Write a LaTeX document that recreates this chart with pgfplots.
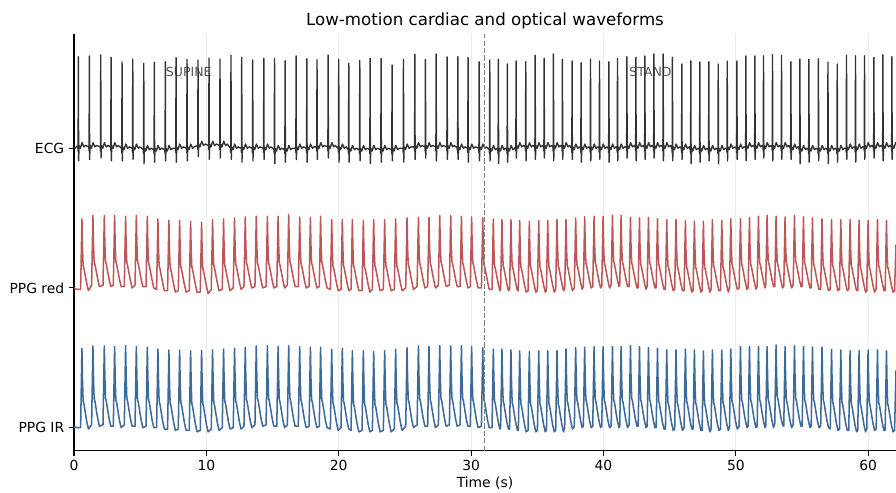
\documentclass[border=0pt]{standalone}
\usepackage{fontspec}
\setmainfont{DejaVu Sans}
\usepackage{pgfplots}
\usepackage{pgfplotstable}
\pgfplotsset{compat=1.18}
\definecolor{ecgc}{HTML}{333333}
\definecolor{redc}{HTML}{BD5757}
\definecolor{bluec}{HTML}{3D6A98}
\definecolor{gridc}{HTML}{EBEBEB}
\definecolor{annc}{HTML}{555555}

% ECG trace (relative to its own baseline; drawn at offset 2)
\pgfplotstableread{
t y
0.00 0.01
0.10 0.00
0.20 0.015
0.29 0.01
0.31 -0.02
0.33 0.656
0.35 -0.09
0.38 0.02
0.48 0.00
0.61 0.04
0.75 0.01
0.88 0.02
1.12 0.01
1.14 -0.02
1.16 0.661
1.18 -0.08
1.21 0.02
1.31 0.00
1.44 0.04
1.58 0.01
1.71 0.02
1.98 0.01
2.00 -0.02
2.02 0.668
2.04 -0.07
2.07 0.02
2.17 0.00
2.30 0.04
2.44 0.01
2.57 0.02
2.76 0.01
2.78 -0.02
2.80 0.651
2.82 -0.09
2.85 0.02
2.95 0.00
3.08 0.04
3.22 0.01
3.35 0.02
3.59 0.00
3.61 -0.03
3.63 0.618
3.65 -0.09
3.68 0.01
3.78 -0.01
3.91 0.03
4.05 0.00
4.18 0.01
4.40 0.00
4.42 -0.03
4.44 0.639
4.46 -0.08
4.49 0.01
4.59 -0.01
4.72 0.03
4.86 0.00
4.99 0.01
5.23 -0.01
5.25 -0.04
5.27 0.608
5.29 -0.11
5.32 0.00
5.42 -0.02
5.55 0.02
5.69 -0.01
5.82 0.00
6.03 -0.01
6.05 -0.04
6.07 0.616
6.09 -0.10
6.12 0.00
6.22 -0.02
6.35 0.02
6.49 -0.01
6.62 0.00
6.86 -0.01
6.88 -0.04
6.90 0.620
6.92 -0.09
6.95 0.00
7.05 -0.02
7.18 0.02
7.32 -0.01
7.45 0.00
7.67 0.00
7.69 -0.03
7.71 0.649
7.73 -0.10
7.76 0.01
7.86 -0.01
7.99 0.03
8.13 0.00
8.26 0.01
8.50 0.00
8.52 -0.03
8.54 0.637
8.56 -0.09
8.59 0.01
8.69 -0.01
8.82 0.03
8.96 0.00
9.09 0.01
9.33 0.02
9.35 -0.01
9.37 0.632
9.39 -0.06
9.42 0.03
9.52 0.01
9.65 0.05
9.79 0.02
9.92 0.03
10.16 0.02
10.18 -0.01
10.20 0.646
10.22 -0.08
10.25 0.03
10.35 0.01
10.48 0.05
10.62 0.02
10.75 0.03
10.99 0.02
11.01 -0.01
11.03 0.639
11.05 -0.07
11.08 0.03
11.18 0.01
11.31 0.05
11.45 0.02
11.58 0.03
11.82 0.00
11.84 -0.03
11.86 0.666
11.88 -0.08
11.91 0.01
12.01 -0.01
12.14 0.03
12.28 0.00
12.41 0.01
12.63 0.00
12.65 -0.03
12.67 0.651
12.69 -0.10
12.72 0.01
12.82 -0.01
12.95 0.03
13.09 0.00
13.22 0.01
13.46 0.00
13.48 -0.03
13.50 0.632
13.52 -0.09
13.55 0.01
13.65 -0.01
13.78 0.03
13.92 0.00
14.05 0.01
14.30 0.00
14.32 -0.03
14.34 0.644
14.36 -0.08
14.39 0.01
14.49 -0.01
14.62 0.03
14.76 0.00
14.89 0.01
15.11 -0.01
15.13 -0.04
15.15 0.644
15.17 -0.11
15.20 0.00
15.30 -0.02
15.43 0.02
15.57 -0.01
15.70 0.00
15.91 -0.01
15.93 -0.04
15.95 0.627
15.97 -0.10
16.00 0.00
16.10 -0.02
16.23 0.02
16.37 -0.01
16.50 0.00
16.74 0.00
16.76 -0.03
16.78 0.661
16.80 -0.08
16.83 0.01
16.93 -0.01
17.06 0.03
17.20 0.00
17.33 0.01
17.55 0.00
17.57 -0.03
17.59 0.641
17.61 -0.10
17.64 0.01
17.74 -0.01
17.87 0.03
18.01 0.00
18.14 0.01
18.32 0.01
18.34 -0.02
18.36 0.634
18.38 -0.08
18.41 0.02
18.51 0.00
18.64 0.04
18.78 0.01
18.91 0.02
19.16 0.01
19.18 -0.02
19.20 0.668
19.22 -0.07
19.25 0.02
19.35 0.00
19.48 0.04
19.62 0.01
19.75 0.02
19.96 0.00
19.98 -0.03
20.00 0.637
20.02 -0.10
20.05 0.01
20.15 -0.01
20.28 0.03
20.42 0.00
20.55 0.01
20.72 -0.01
20.74 -0.04
20.76 0.608
20.78 -0.10
20.81 0.00
20.91 -0.02
21.04 0.02
21.18 -0.01
21.31 0.00
21.55 -0.01
21.57 -0.04
21.59 0.630
21.61 -0.09
21.64 0.00
21.74 -0.02
21.87 0.02
22.01 -0.01
22.14 0.00
22.33 -0.01
22.35 -0.04
22.37 0.644
22.39 -0.11
22.42 0.00
22.52 -0.02
22.65 0.02
22.79 -0.01
22.92 0.00
23.16 -0.01
23.18 -0.04
23.20 0.644
23.22 -0.10
23.25 0.00
23.35 -0.02
23.48 0.02
23.62 -0.01
23.75 0.00
23.99 -0.01
24.01 -0.04
24.03 0.596
24.05 -0.09
24.08 0.00
24.18 -0.02
24.31 0.02
24.45 -0.01
24.58 0.00
24.85 0.00
24.87 -0.03
24.89 0.637
24.91 -0.10
24.94 0.01
25.04 -0.01
25.17 0.03
25.31 0.00
25.44 0.01
25.71 0.01
25.73 -0.02
25.75 0.673
25.77 -0.08
25.80 0.02
25.90 0.00
26.03 0.04
26.17 0.01
26.30 0.02
26.51 0.01
26.53 -0.02
26.55 0.637
26.57 -0.07
26.60 0.02
26.70 0.00
26.83 0.04
26.97 0.01
27.10 0.02
27.32 0.01
27.34 -0.02
27.36 0.675
27.38 -0.09
27.41 0.02
27.51 0.00
27.64 0.04
27.78 0.01
27.91 0.02
28.15 0.01
28.17 -0.02
28.19 0.654
28.21 -0.08
28.24 0.02
28.34 0.00
28.47 0.04
28.61 0.01
28.74 0.02
28.96 0.00
28.98 -0.03
29.00 0.656
29.02 -0.08
29.05 0.01
29.15 -0.01
29.28 0.03
29.42 0.00
29.55 0.01
29.73 0.00
29.75 -0.03
29.77 0.649
29.79 -0.10
29.82 0.01
29.92 -0.01
30.05 0.03
30.19 0.00
30.32 0.01
30.57 0.00
30.59 -0.03
30.61 0.620
30.63 -0.09
30.66 0.01
30.76 -0.01
30.89 0.03
31.03 0.00
31.16 0.01
31.37 -0.01
31.39 -0.04
31.41 0.632
31.43 -0.09
31.46 0.00
31.56 -0.02
31.69 0.02
31.83 -0.01
31.96 0.00
32.02 -0.01
32.04 -0.04
32.06 0.637
32.08 -0.11
32.11 0.00
32.21 -0.02
32.34 0.02
32.48 -0.01
32.61 0.00
32.70 -0.01
32.72 -0.04
32.74 0.603
32.76 -0.10
32.79 0.00
32.89 -0.02
33.02 0.02
33.16 -0.01
33.29 0.00
33.36 0.01
33.38 -0.02
33.40 0.625
33.42 -0.07
33.45 0.02
33.55 0.00
33.68 0.04
33.82 0.01
33.95 0.02
34.09 0.01
34.11 -0.02
34.13 0.620
34.15 -0.09
34.18 0.02
34.28 0.00
34.41 0.04
34.55 0.01
34.68 0.02
34.80 0.01
34.82 -0.02
34.84 0.666
34.86 -0.08
34.89 0.02
34.99 0.00
35.12 0.04
35.26 0.01
35.39 0.02
35.48 0.01
35.50 -0.02
35.52 0.644
35.54 -0.07
35.57 0.02
35.67 0.00
35.80 0.04
35.94 0.01
36.07 0.02
36.18 0.01
36.20 -0.02
36.22 0.675
36.24 -0.09
36.27 0.02
36.37 0.00
36.50 0.04
36.64 0.01
36.77 0.02
36.86 0.01
36.88 -0.02
36.90 0.637
36.92 -0.08
36.95 0.02
37.05 0.00
37.18 0.04
37.32 0.01
37.45 0.02
37.59 0.00
37.61 -0.03
37.63 0.625
37.65 -0.08
37.68 0.01
37.78 -0.01
37.91 0.03
38.05 0.00
38.18 0.01
38.27 0.00
38.29 -0.03
38.31 0.613
38.33 -0.10
38.36 0.01
38.46 -0.01
38.59 0.03
38.73 0.00
38.86 0.01
38.98 0.00
39.00 -0.03
39.02 0.639
39.04 -0.09
39.07 0.01
39.17 -0.01
39.30 0.03
39.44 0.00
39.57 0.01
39.66 0.00
39.68 -0.03
39.70 0.625
39.72 -0.08
39.75 0.01
39.85 -0.01
39.98 0.03
40.12 0.00
40.25 0.01
40.37 0.00
40.39 -0.03
40.41 0.620
40.43 -0.10
40.46 0.01
40.56 -0.01
40.69 0.03
40.83 0.00
40.96 0.01
41.02 0.00
41.04 -0.03
41.06 0.644
41.08 -0.09
41.11 0.01
41.21 -0.01
41.34 0.03
41.48 0.00
41.61 0.01
41.73 0.01
41.75 -0.02
41.77 0.656
41.79 -0.07
41.82 0.02
41.92 0.00
42.05 0.04
42.19 0.01
42.32 0.02
42.41 0.01
42.43 -0.02
42.45 0.651
42.47 -0.09
42.50 0.02
42.60 0.00
42.73 0.04
42.87 0.01
43.00 0.02
43.09 0.01
43.11 -0.02
43.13 0.661
43.15 -0.08
43.18 0.02
43.28 0.00
43.41 0.04
43.55 0.01
43.68 0.02
43.77 0.01
43.79 -0.02
43.81 0.675
43.83 -0.07
43.86 0.02
43.96 0.00
44.09 0.04
44.23 0.01
44.36 0.02
44.47 0.01
44.49 -0.02
44.51 0.675
44.53 -0.09
44.56 0.02
44.66 0.00
44.79 0.04
44.93 0.01
45.06 0.02
45.17 0.00
45.19 -0.03
45.21 0.651
45.23 -0.09
45.26 0.01
45.36 -0.01
45.49 0.03
45.63 0.00
45.76 0.01
45.88 0.00
45.90 -0.03
45.92 0.603
45.94 -0.08
45.97 0.01
46.07 -0.01
46.20 0.03
46.34 0.00
46.47 0.01
46.56 -0.01
46.58 -0.04
46.60 0.626
46.62 -0.11
46.65 0.00
46.75 -0.02
46.88 0.02
47.02 -0.01
47.15 0.00
47.24 -0.01
47.26 -0.04
47.28 0.618
47.30 -0.10
47.33 0.00
47.43 -0.02
47.56 0.02
47.70 -0.01
47.83 0.00
47.92 -0.01
47.94 -0.04
47.96 0.620
47.98 -0.09
48.01 0.00
48.11 -0.02
48.24 0.02
48.38 -0.01
48.51 0.00
48.63 -0.01
48.65 -0.04
48.67 0.603
48.69 -0.11
48.72 0.00
48.82 -0.02
48.95 0.02
49.09 -0.01
49.22 0.00
49.31 0.00
49.33 -0.03
49.35 0.625
49.37 -0.09
49.40 0.01
49.50 -0.01
49.63 0.03
49.77 0.00
49.90 0.01
50.04 0.00
50.06 -0.03
50.08 0.625
50.10 -0.08
50.13 0.01
50.23 -0.01
50.36 0.03
50.50 0.00
50.63 0.01
50.72 0.01
50.74 -0.02
50.76 0.661
50.78 -0.09
50.81 0.02
50.91 0.00
51.04 0.04
51.18 0.01
51.31 0.02
51.40 0.01
51.42 -0.02
51.44 0.661
51.46 -0.08
51.49 0.02
51.59 0.00
51.72 0.04
51.86 0.01
51.99 0.02
52.05 0.01
52.07 -0.02
52.09 0.661
52.11 -0.07
52.14 0.02
52.24 0.00
52.37 0.04
52.51 0.01
52.64 0.02
52.73 0.01
52.75 -0.02
52.77 0.670
52.79 -0.09
52.82 0.02
52.92 0.00
53.05 0.04
53.19 0.01
53.32 0.02
53.41 0.01
53.43 -0.02
53.45 0.666
53.47 -0.08
53.50 0.02
53.60 0.00
53.73 0.04
53.87 0.01
54.00 0.02
54.12 0.00
54.14 -0.03
54.16 0.620
54.18 -0.08
54.21 0.01
54.31 -0.01
54.44 0.03
54.58 0.00
54.71 0.01
54.80 -0.01
54.82 -0.04
54.84 0.639
54.86 -0.11
54.89 0.00
54.99 -0.02
55.12 0.02
55.26 -0.01
55.39 0.00
55.48 -0.01
55.50 -0.04
55.52 0.637
55.54 -0.10
55.57 0.00
55.67 -0.02
55.80 0.02
55.94 -0.01
56.07 0.00
56.20 -0.01
56.22 -0.04
56.24 0.641
56.26 -0.09
56.29 0.00
56.39 -0.02
56.52 0.02
56.66 -0.01
56.79 0.00
56.92 -0.01
56.94 -0.04
56.96 0.616
56.98 -0.11
57.01 0.00
57.11 -0.02
57.24 0.02
57.38 -0.01
57.51 0.00
57.62 -0.01
57.64 -0.04
57.66 0.603
57.68 -0.10
57.71 0.00
57.81 -0.02
57.94 0.02
58.08 -0.01
58.21 0.00
58.32 0.00
58.34 -0.03
58.36 0.666
58.38 -0.08
58.41 0.01
58.51 -0.01
58.64 0.03
58.78 0.00
58.91 0.01
59.00 0.00
59.02 -0.03
59.04 0.661
59.06 -0.10
59.09 0.01
59.19 -0.01
59.32 0.03
59.46 0.00
59.59 0.01
59.68 0.01
59.70 -0.02
59.72 0.661
59.74 -0.08
59.77 0.02
59.87 0.00
60.00 0.04
60.14 0.01
60.27 0.02
60.39 0.01
60.41 -0.02
60.43 0.651
60.45 -0.07
60.48 0.02
60.58 0.00
60.71 0.04
60.85 0.01
60.98 0.02
61.07 0.01
61.09 -0.02
61.11 0.670
61.13 -0.09
61.16 0.02
61.26 0.00
61.39 0.04
61.53 0.01
61.66 0.02
61.75 0.01
61.77 -0.02
61.79 0.656
61.81 -0.08
61.84 0.02
61.94 0.00
62.07 0.04
62.10 0.03
}\ecgtab

% PPG traces: r = PPG red (offset 1), i = PPG IR (offset 0)
\pgfplotstableread{
t r i
0.00 0.00 0.005
0.25 -0.01 0.00
0.50 -0.01 0.00
0.60 0.494 0.568
0.64 0.29 0.35
0.69 0.16 0.19
0.75 0.14 0.17
0.85 0.09 0.11
0.97 0.03 0.04
1.09 -0.02 -0.01
1.33 0.02 0.02
1.43 0.518 0.585
1.47 0.32 0.37
1.52 0.19 0.21
1.58 0.17 0.19
1.68 0.12 0.13
1.80 0.06 0.06
1.92 0.01 0.01
2.19 0.02 0.02
2.29 0.518 0.585
2.33 0.32 0.37
2.38 0.19 0.21
2.44 0.17 0.19
2.54 0.12 0.13
2.66 0.06 0.06
2.78 0.01 0.01
2.97 0.02 0.01
3.07 0.518 0.580
3.11 0.32 0.36
3.16 0.19 0.20
3.22 0.17 0.18
3.32 0.12 0.12
3.44 0.06 0.05
3.56 0.01 0.00
3.80 0.01 0.02
3.90 0.513 0.587
3.94 0.31 0.37
3.99 0.18 0.21
4.05 0.16 0.19
4.15 0.11 0.13
4.27 0.05 0.06
4.39 0.00 0.01
4.61 0.02 0.01
4.71 0.518 0.580
4.75 0.32 0.36
4.80 0.19 0.20
4.86 0.17 0.18
4.96 0.12 0.12
5.08 0.06 0.05
5.20 0.01 0.00
5.44 0.01 0.01
5.54 0.513 0.576
5.58 0.31 0.36
5.63 0.18 0.20
5.69 0.16 0.18
5.79 0.11 0.12
5.91 0.05 0.05
6.03 0.00 0.00
6.24 -0.01 0.00
6.34 0.494 0.563
6.38 0.29 0.35
6.43 0.16 0.19
6.49 0.14 0.17
6.59 0.09 0.11
6.71 0.03 0.04
6.83 -0.02 -0.01
7.07 -0.02 -0.01
7.17 0.484 0.556
7.21 0.28 0.34
7.26 0.15 0.18
7.32 0.13 0.16
7.42 0.08 0.10
7.54 0.02 0.03
7.66 -0.03 -0.02
7.88 -0.02 -0.01
7.98 0.484 0.556
8.02 0.28 0.34
8.07 0.15 0.18
8.13 0.13 0.16
8.23 0.08 0.10
8.35 0.02 0.03
8.47 -0.03 -0.02
8.71 -0.02 -0.02
8.81 0.477 0.551
8.85 0.28 0.33
8.90 0.15 0.17
8.96 0.13 0.15
9.06 0.08 0.09
9.18 0.02 0.02
9.30 -0.03 -0.03
9.54 -0.03 -0.02
9.64 0.470 0.551
9.68 0.27 0.33
9.73 0.14 0.17
9.79 0.12 0.15
9.89 0.07 0.09
10.01 0.01 0.02
10.13 -0.04 -0.03
10.37 -0.01 -0.01
10.47 0.489 0.556
10.51 0.29 0.34
10.56 0.16 0.18
10.62 0.14 0.16
10.72 0.09 0.10
10.84 0.03 0.03
10.96 -0.02 -0.02
11.20 -0.01 0.00
11.30 0.494 0.563
11.34 0.29 0.35
11.39 0.16 0.19
11.45 0.14 0.17
11.55 0.09 0.11
11.67 0.03 0.04
11.79 -0.02 -0.01
12.03 0.00 0.00
12.13 0.501 0.568
12.17 0.30 0.35
12.22 0.17 0.19
12.28 0.15 0.17
12.38 0.10 0.11
12.50 0.04 0.04
12.62 -0.01 -0.01
12.84 0.01 0.01
12.94 0.508 0.576
12.98 0.31 0.36
13.03 0.18 0.20
13.09 0.16 0.18
13.19 0.11 0.12
13.31 0.05 0.05
13.43 0.00 0.00
13.67 0.01 0.02
13.77 0.513 0.585
13.81 0.31 0.37
13.86 0.18 0.21
13.92 0.16 0.19
14.02 0.11 0.13
14.14 0.05 0.06
14.26 0.00 0.01
14.51 0.01 0.02
14.61 0.513 0.587
14.65 0.31 0.37
14.70 0.18 0.21
14.76 0.16 0.19
14.86 0.11 0.13
14.98 0.05 0.06
15.10 0.00 0.01
15.32 0.01 0.01
15.42 0.513 0.580
15.46 0.31 0.36
15.51 0.18 0.20
15.57 0.16 0.18
15.67 0.11 0.12
15.79 0.05 0.05
15.91 0.00 0.00
16.12 0.02 0.02
16.22 0.525 0.587
16.26 0.32 0.37
16.31 0.19 0.21
16.37 0.17 0.19
16.47 0.12 0.13
16.59 0.06 0.06
16.71 0.01 0.01
16.95 0.01 0.01
17.05 0.508 0.580
17.09 0.31 0.36
17.14 0.18 0.20
17.20 0.16 0.18
17.30 0.11 0.12
17.42 0.05 0.05
17.54 0.00 0.00
17.76 0.01 0.01
17.86 0.505 0.576
17.90 0.31 0.36
17.95 0.18 0.20
18.01 0.16 0.18
18.11 0.11 0.12
18.23 0.05 0.05
18.35 0.00 0.00
18.53 0.01 0.01
18.63 0.513 0.576
18.67 0.31 0.36
18.72 0.18 0.20
18.78 0.16 0.18
18.88 0.11 0.12
19.00 0.05 0.05
19.12 0.00 0.00
19.37 -0.01 -0.01
19.47 0.489 0.561
19.51 0.29 0.34
19.56 0.16 0.18
19.62 0.14 0.16
19.72 0.09 0.10
19.84 0.03 0.03
19.96 -0.02 -0.02
20.17 -0.01 0.00
20.27 0.489 0.568
20.31 0.29 0.35
20.36 0.16 0.19
20.42 0.14 0.17
20.52 0.09 0.11
20.64 0.03 0.04
20.76 -0.02 -0.01
20.93 -0.01 -0.02
21.03 0.489 0.551
21.07 0.29 0.33
21.12 0.16 0.17
21.18 0.14 0.15
21.28 0.09 0.09
21.40 0.03 0.02
21.52 -0.02 -0.03
21.76 -0.02 -0.02
21.86 0.482 0.551
21.90 0.28 0.33
21.95 0.15 0.17
22.01 0.13 0.15
22.11 0.08 0.09
22.23 0.02 0.02
22.35 -0.03 -0.03
22.54 -0.01 -0.02
22.64 0.489 0.544
22.68 0.29 0.33
22.73 0.16 0.17
22.79 0.14 0.15
22.89 0.09 0.09
23.01 0.03 0.02
23.13 -0.02 -0.03
23.37 -0.01 -0.02
23.47 0.489 0.551
23.51 0.29 0.33
23.56 0.16 0.17
23.62 0.14 0.15
23.72 0.09 0.09
23.84 0.03 0.02
23.96 -0.02 -0.03
24.20 -0.01 -0.01
24.30 0.494 0.561
24.34 0.29 0.34
24.39 0.16 0.18
24.45 0.14 0.16
24.55 0.09 0.10
24.67 0.03 0.03
24.79 -0.02 -0.02
25.06 0.00 0.01
25.16 0.501 0.573
25.20 0.30 0.36
25.25 0.17 0.20
25.31 0.15 0.18
25.41 0.10 0.12
25.53 0.04 0.05
25.65 -0.01 0.00
25.92 0.01 0.02
26.02 0.505 0.585
26.06 0.31 0.37
26.11 0.18 0.21
26.17 0.16 0.19
26.27 0.11 0.13
26.39 0.05 0.06
26.51 0.00 0.01
26.72 0.01 0.01
26.82 0.505 0.580
26.86 0.31 0.36
26.91 0.18 0.20
26.97 0.16 0.18
27.07 0.11 0.12
27.19 0.05 0.05
27.31 0.00 0.00
27.53 0.02 0.02
27.63 0.518 0.587
27.67 0.32 0.37
27.72 0.19 0.21
27.78 0.17 0.19
27.88 0.12 0.13
28.00 0.06 0.06
28.12 0.01 0.01
28.36 0.02 0.02
28.46 0.518 0.585
28.50 0.32 0.37
28.55 0.19 0.21
28.61 0.17 0.19
28.71 0.12 0.13
28.83 0.06 0.06
28.95 0.01 0.01
29.17 0.01 0.02
29.27 0.513 0.587
29.31 0.31 0.37
29.36 0.18 0.21
29.42 0.16 0.19
29.52 0.11 0.13
29.64 0.05 0.06
29.76 0.00 0.01
29.94 0.01 0.01
30.04 0.508 0.580
30.08 0.31 0.36
30.13 0.18 0.20
30.19 0.16 0.18
30.29 0.11 0.12
30.41 0.05 0.05
30.53 0.00 0.00
30.78 0.00 0.01
30.88 0.501 0.573
30.92 0.30 0.36
30.97 0.17 0.20
31.03 0.15 0.18
31.13 0.10 0.12
31.25 0.04 0.05
31.37 -0.01 0.00
31.58 -0.01 0.00
31.68 0.494 0.563
31.72 0.29 0.35
31.77 0.16 0.19
31.83 0.14 0.17
31.93 0.09 0.11
32.05 0.03 0.04
32.17 -0.02 -0.01
32.23 -0.01 0.00
32.33 0.489 0.563
32.37 0.29 0.35
32.42 0.16 0.19
32.48 0.14 0.17
32.58 0.09 0.11
32.70 0.03 0.04
32.82 -0.02 -0.01
32.91 -0.01 -0.01
33.01 0.489 0.556
33.05 0.29 0.34
33.10 0.16 0.18
33.16 0.14 0.16
33.26 0.09 0.10
33.38 0.03 0.03
33.50 -0.02 -0.02
33.57 -0.02 -0.02
33.67 0.484 0.549
33.71 0.28 0.33
33.76 0.15 0.17
33.82 0.13 0.15
33.92 0.08 0.09
34.04 0.02 0.02
34.16 -0.03 -0.03
34.30 -0.02 -0.02
34.40 0.477 0.544
34.44 0.28 0.33
34.49 0.15 0.17
34.55 0.13 0.15
34.65 0.08 0.09
34.77 0.02 0.02
34.89 -0.03 -0.03
35.01 -0.02 -0.02
35.11 0.482 0.549
35.15 0.28 0.33
35.20 0.15 0.17
35.26 0.13 0.15
35.36 0.08 0.09
35.48 0.02 0.02
35.60 -0.03 -0.03
35.69 -0.02 -0.02
35.79 0.482 0.549
35.83 0.28 0.33
35.88 0.15 0.17
35.94 0.13 0.15
36.04 0.08 0.09
36.16 0.02 0.02
36.28 -0.03 -0.03
36.39 -0.01 -0.02
36.49 0.489 0.551
36.53 0.29 0.33
36.58 0.16 0.17
36.64 0.14 0.15
36.74 0.09 0.09
36.86 0.03 0.02
36.98 -0.02 -0.03
37.07 -0.01 0.00
37.17 0.489 0.563
37.21 0.29 0.35
37.26 0.16 0.19
37.32 0.14 0.17
37.42 0.09 0.11
37.54 0.03 0.04
37.66 -0.02 -0.01
37.80 0.00 0.01
37.90 0.501 0.573
37.94 0.30 0.36
37.99 0.17 0.20
38.05 0.15 0.18
38.15 0.10 0.12
38.27 0.04 0.05
38.39 -0.01 0.00
38.48 0.01 0.01
38.58 0.510 0.576
38.62 0.31 0.36
38.67 0.18 0.20
38.73 0.16 0.18
38.83 0.11 0.12
38.95 0.05 0.05
39.07 0.00 0.00
39.19 0.01 0.01
39.29 0.513 0.580
39.33 0.31 0.36
39.38 0.18 0.20
39.44 0.16 0.18
39.54 0.11 0.12
39.66 0.05 0.05
39.78 0.00 0.00
39.87 0.01 0.01
39.97 0.513 0.580
40.01 0.31 0.36
40.06 0.18 0.20
40.12 0.16 0.18
40.22 0.11 0.12
40.34 0.05 0.05
40.46 0.00 0.00
40.58 0.02 0.01
40.68 0.520 0.580
40.72 0.32 0.36
40.77 0.19 0.20
40.83 0.17 0.18
40.93 0.12 0.12
41.05 0.06 0.05
41.17 0.01 0.00
41.23 0.02 0.01
41.33 0.518 0.580
41.37 0.32 0.36
41.42 0.19 0.20
41.48 0.17 0.18
41.58 0.12 0.12
41.70 0.06 0.05
41.82 0.01 0.00
41.94 0.01 0.02
42.04 0.505 0.587
42.08 0.31 0.37
42.13 0.18 0.21
42.19 0.16 0.19
42.29 0.11 0.13
42.41 0.05 0.06
42.53 0.00 0.01
42.62 0.00 0.01
42.72 0.501 0.580
42.76 0.30 0.36
42.81 0.17 0.20
42.87 0.15 0.18
42.97 0.10 0.12
43.09 0.04 0.05
43.21 -0.01 0.00
43.30 0.01 0.01
43.40 0.505 0.573
43.44 0.31 0.36
43.49 0.18 0.20
43.55 0.16 0.18
43.65 0.11 0.12
43.77 0.05 0.05
43.89 0.00 0.00
43.98 0.00 0.00
44.08 0.496 0.568
44.12 0.30 0.35
44.17 0.17 0.19
44.23 0.15 0.17
44.33 0.10 0.11
44.45 0.04 0.04
44.57 -0.01 -0.01
44.68 -0.01 -0.01
44.78 0.489 0.556
44.82 0.29 0.34
44.87 0.16 0.18
44.93 0.14 0.16
45.03 0.09 0.10
45.15 0.03 0.03
45.27 -0.02 -0.02
45.38 -0.01 -0.01
45.48 0.489 0.556
45.52 0.29 0.34
45.57 0.16 0.18
45.63 0.14 0.16
45.73 0.09 0.10
45.85 0.03 0.03
45.97 -0.02 -0.02
46.09 -0.02 0.00
46.19 0.482 0.563
46.23 0.28 0.35
46.28 0.15 0.19
46.34 0.13 0.17
46.44 0.08 0.11
46.56 0.02 0.04
46.68 -0.03 -0.01
46.77 -0.02 -0.01
46.87 0.477 0.556
46.91 0.28 0.34
46.96 0.15 0.18
47.02 0.13 0.16
47.12 0.08 0.10
47.24 0.02 0.03
47.36 -0.03 -0.02
47.45 -0.02 -0.02
47.55 0.477 0.549
47.59 0.28 0.33
47.64 0.15 0.17
47.70 0.13 0.15
47.80 0.08 0.09
47.92 0.02 0.02
48.04 -0.03 -0.03
48.13 -0.01 -0.01
48.23 0.489 0.556
48.27 0.29 0.34
48.32 0.16 0.18
48.38 0.14 0.16
48.48 0.09 0.10
48.60 0.03 0.03
48.72 -0.02 -0.02
48.84 -0.02 -0.01
48.94 0.482 0.556
48.98 0.28 0.34
49.03 0.15 0.18
49.09 0.13 0.16
49.19 0.08 0.10
49.31 0.02 0.03
49.43 -0.03 -0.02
49.52 0.00 0.00
49.62 0.496 0.563
49.66 0.30 0.35
49.71 0.17 0.19
49.77 0.15 0.17
49.87 0.10 0.11
49.99 0.04 0.04
50.11 -0.01 -0.01
50.25 0.00 0.01
50.35 0.496 0.580
50.39 0.30 0.36
50.44 0.17 0.20
50.50 0.15 0.18
50.60 0.10 0.12
50.72 0.04 0.05
50.84 -0.01 0.00
50.93 0.00 0.01
51.03 0.501 0.580
51.07 0.30 0.36
51.12 0.17 0.20
51.18 0.15 0.18
51.28 0.10 0.12
51.40 0.04 0.05
51.52 -0.01 0.00
51.61 0.01 0.01
51.71 0.513 0.580
51.75 0.31 0.36
51.80 0.18 0.20
51.86 0.16 0.18
51.96 0.11 0.12
52.08 0.05 0.05
52.20 0.00 0.00
52.26 0.02 0.01
52.36 0.520 0.580
52.40 0.32 0.36
52.45 0.19 0.20
52.51 0.17 0.18
52.61 0.12 0.12
52.73 0.06 0.05
52.85 0.01 0.00
52.94 0.01 0.03
53.04 0.513 0.592
53.08 0.31 0.38
53.13 0.18 0.22
53.19 0.16 0.20
53.29 0.11 0.14
53.41 0.05 0.07
53.53 0.00 0.02
53.62 0.01 0.01
53.72 0.508 0.580
53.76 0.31 0.36
53.81 0.18 0.20
53.87 0.16 0.18
53.97 0.11 0.12
54.09 0.05 0.05
54.21 0.00 0.00
54.33 0.02 0.02
54.43 0.518 0.585
54.47 0.32 0.37
54.52 0.19 0.21
54.58 0.17 0.19
54.68 0.12 0.13
54.80 0.06 0.06
54.92 0.01 0.01
55.01 0.01 0.01
55.11 0.508 0.580
55.15 0.31 0.36
55.20 0.18 0.20
55.26 0.16 0.18
55.36 0.11 0.12
55.48 0.05 0.05
55.60 0.00 0.00
55.69 0.00 0.01
55.79 0.501 0.576
55.83 0.30 0.36
55.88 0.17 0.20
55.94 0.15 0.18
56.04 0.10 0.12
56.16 0.04 0.05
56.28 -0.01 0.00
56.41 -0.01 0.01
56.51 0.494 0.576
56.55 0.29 0.36
56.60 0.16 0.20
56.66 0.14 0.18
56.76 0.09 0.12
56.88 0.03 0.05
57.00 -0.02 0.00
57.13 -0.01 -0.01
57.23 0.489 0.561
57.27 0.29 0.34
57.32 0.16 0.18
57.38 0.14 0.16
57.48 0.09 0.10
57.60 0.03 0.03
57.72 -0.02 -0.02
57.83 -0.01 -0.01
57.93 0.489 0.556
57.97 0.29 0.34
58.02 0.16 0.18
58.08 0.14 0.16
58.18 0.09 0.10
58.30 0.03 0.03
58.42 -0.02 -0.02
58.53 -0.01 -0.02
58.63 0.489 0.551
58.67 0.29 0.33
58.72 0.16 0.17
58.78 0.14 0.15
58.88 0.09 0.09
59.00 0.03 0.02
59.12 -0.02 -0.03
59.21 -0.02 -0.02
59.31 0.484 0.551
59.35 0.28 0.33
59.40 0.15 0.17
59.46 0.13 0.15
59.56 0.08 0.09
59.68 0.02 0.02
59.80 -0.03 -0.03
59.89 -0.02 -0.01
59.99 0.484 0.556
60.03 0.28 0.34
60.08 0.15 0.18
60.14 0.13 0.16
60.24 0.08 0.10
60.36 0.02 0.03
60.48 -0.03 -0.02
60.60 -0.01 -0.01
60.70 0.489 0.556
60.74 0.29 0.34
60.79 0.16 0.18
60.85 0.14 0.16
60.95 0.09 0.10
61.07 0.03 0.03
61.19 -0.02 -0.02
61.28 -0.02 -0.02
61.38 0.482 0.549
61.42 0.28 0.33
61.47 0.15 0.17
61.53 0.13 0.15
61.63 0.08 0.09
61.75 0.02 0.02
61.87 -0.03 -0.03
61.99 -0.02 -0.02
62.10 0.31 0.41
}\ppgtab

\begin{document}
\begin{tikzpicture}
\begin{axis}[
  name=ax,
  scale only axis,
  width=591.84pt, height=300pt,
  xmin=0, xmax=62.1,
  ymin=-0.165, ymax=2.818,
  axis x line*=bottom, axis y line*=left,
  axis line style={-, black, line width=0.8pt},
  tick align=outside,
  major tick length=3.5pt,
  tick style={black, line width=0.8pt},
  xtick={0,10,20,30,40,50,60},
  ytick={0,1,2},
  yticklabels={PPG IR, PPG red, ECG},
  xmajorgrids=true, ymajorgrids=false,
  grid style={gridc, line width=0.8pt},
  /pgf/number format/assume math mode=true,
  tick label style={font=\fontsize{10}{12}\selectfont},
  xlabel={Time (s)},
  xlabel style={font=\fontsize{10}{12}\selectfont, at={(axis description cs:0.5,0)}, anchor=base, yshift=-26.6pt},
  title={Low-motion cardiac and optical waveforms},
  title style={font=\fontsize{12}{14}\selectfont, at={(axis description cs:0.5,1)}, anchor=base, yshift=0pt},
  clip=true,
]
\node[font=\fontsize{9}{11}\selectfont, text=annc] at (axis cs:8.67,2.548) {SUPINE};
\node[font=\fontsize{9}{11}\selectfont, text=annc] at (axis cs:43.55,2.548) {STAND};
\addplot[ecgc, line width=1.0pt, line join=round] table[x=t, y expr=\thisrow{y}+2] {\ecgtab};
\addplot[redc, line width=1.1pt, line join=round] table[x=t, y expr=\thisrow{r}+1] {\ppgtab};
\addplot[bluec, line width=1.1pt, line join=round] table[x=t, y=i] {\ppgtab};
\addplot[gray, line width=0.9pt, dash pattern=on 3.7pt off 1.6pt] coordinates {(31,-0.165) (31,2.818)};
\end{axis}
\pgfresetboundingbox
\path[use as bounding box] ([xshift=-53.28pt,yshift=-29.8pt]ax.south west) rectangle ([yshift=24.48pt]ax.north east);
\end{tikzpicture}
\end{document}
